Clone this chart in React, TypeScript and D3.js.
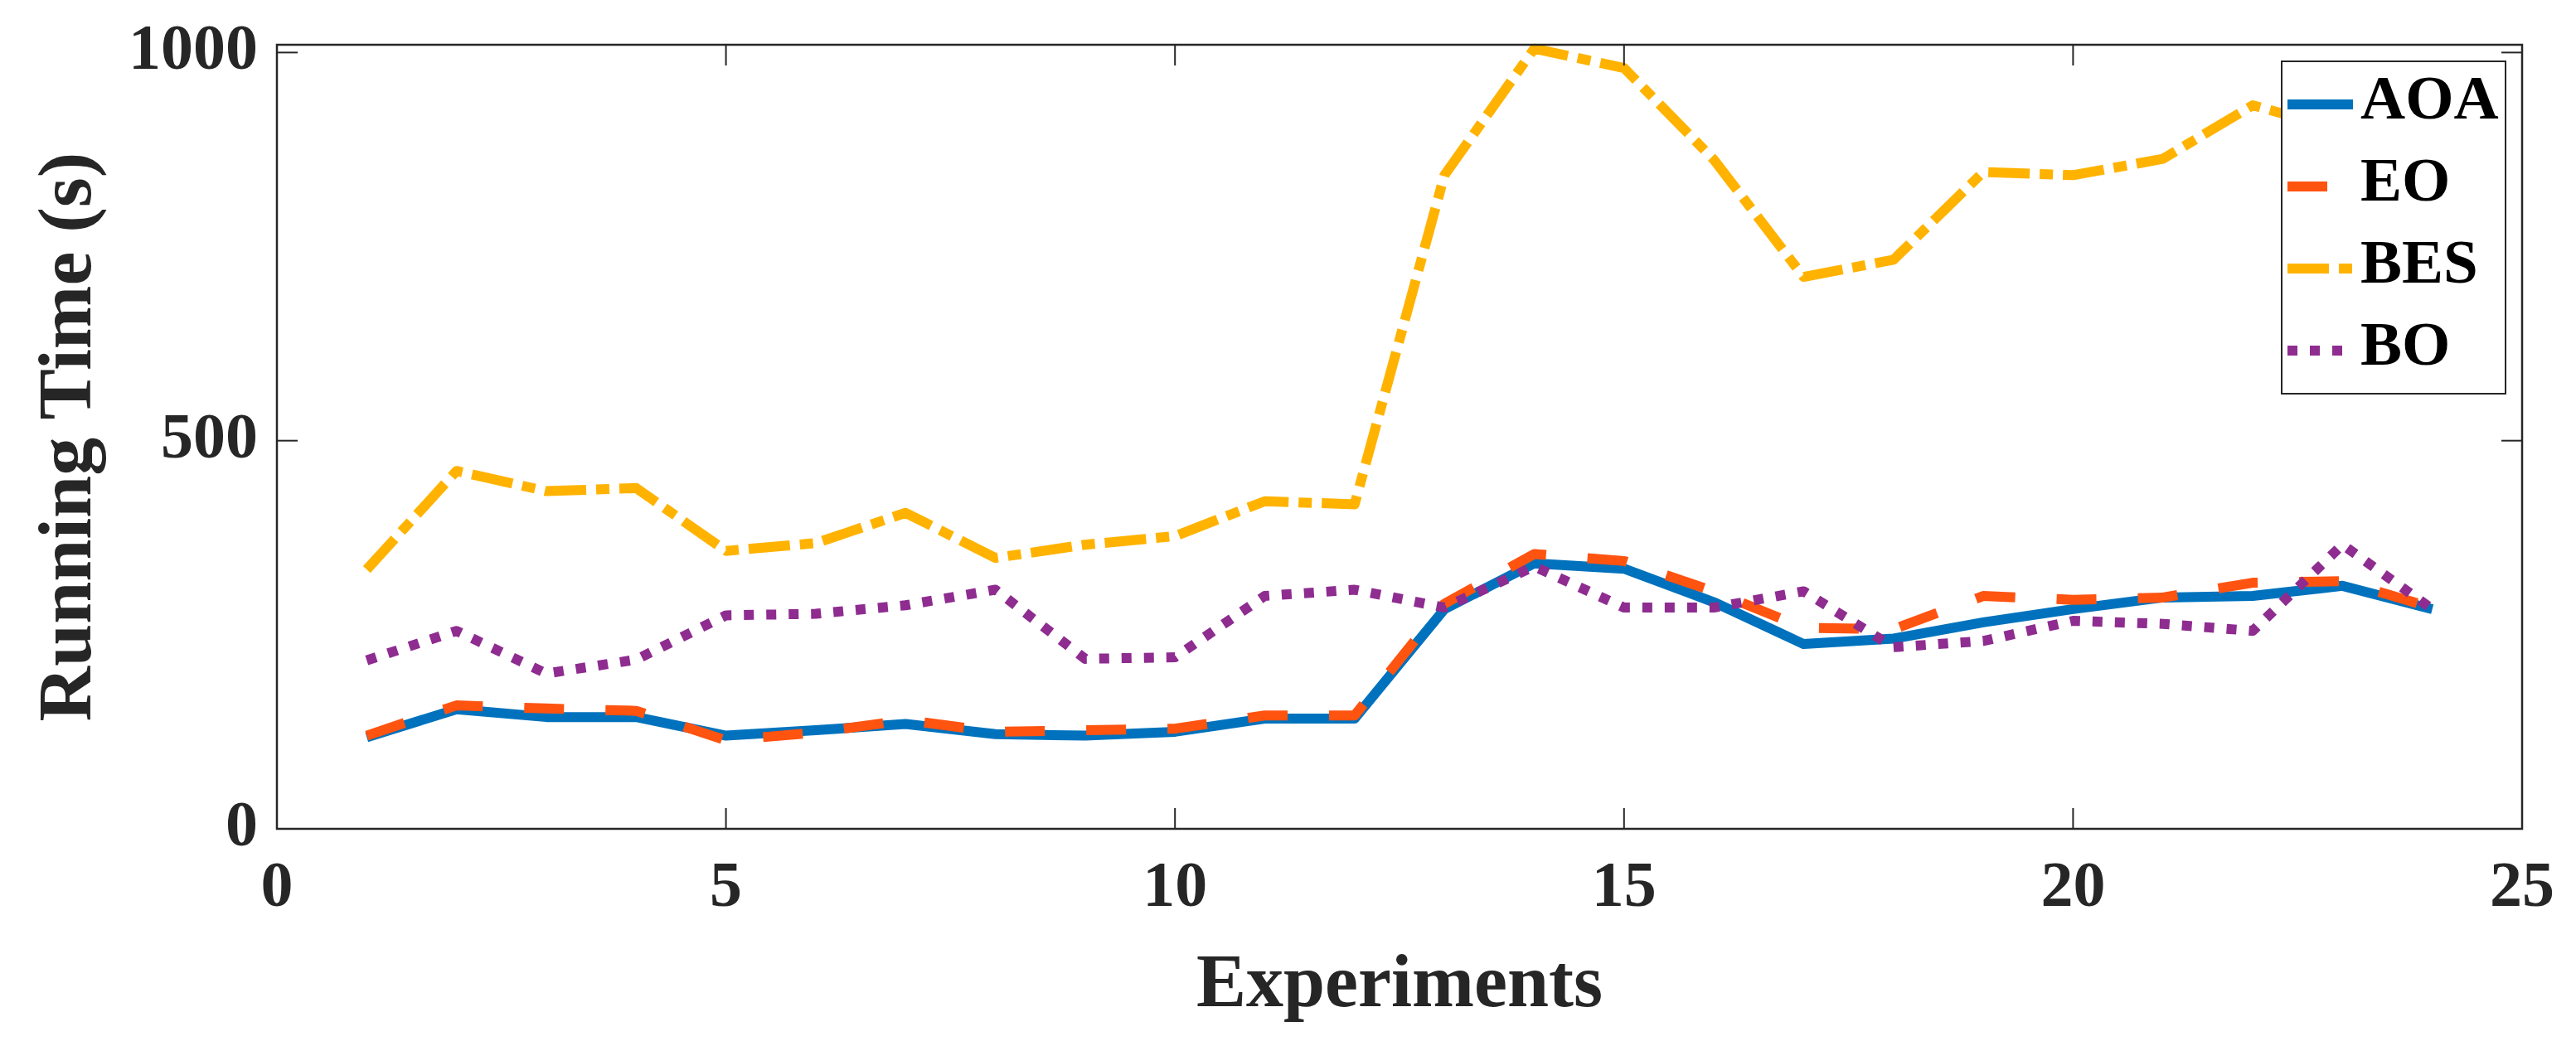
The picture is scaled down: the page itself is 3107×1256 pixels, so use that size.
import * as d3 from "d3";

const experiments = d3.range(1, 25);

const aoa = [118, 154, 144, 144, 120, 127, 135, 122, 120, 125, 142, 142, 283, 342, 335, 292, 238, 245, 266, 283, 298, 300, 313, 283];
const eo = [120, 159, 155, 152, 114, 124, 140, 125, 127, 129, 146, 146, 290, 354, 345, 306, 259, 257, 300, 295, 298, 317, 319, 285];
const bes = [334, 461, 435, 439, 358, 368, 407, 349, 366, 377, 422, 418, 842, 1005, 980, 862, 711, 733, 846, 842, 863, 932, 900, 880];
const bo = [217, 255, 200, 218, 275, 277, 288, 308, 219, 221, 300, 308, 285, 338, 285, 285, 306, 234, 242, 268, 264, 255, 366, 283];

const xTicks = [0, 5, 10, 15, 20, 25];
const yTicks = [0, 500, 1000];

const series = [
  { name: "AOA", values: aoa, color: "#0072BD", dash: "none" },
  { name: "EO", values: eo, color: "#FF5310", dash: "48 50" },
  { name: "BES", values: bes, color: "#FFB300", dash: "50 12 16 12" },
  { name: "BO", values: bo, color: "#8E2C90", dash: "12 15" },
];

const W = 3107;
const H = 1256;
const box = { left: 334, right: 3042, top: 54, bottom: 1000 };
const font = "'Liberation Serif', 'DejaVu Serif', serif";
const axisColor = "#262626";

export default function App() {
  const x = d3.scaleLinear().domain([0, 25]).range([box.left, box.right]);
  const y = d3.scaleLinear().domain([0, 1010]).range([box.bottom, box.top]);
  const line = d3
    .line<number>()
    .x((_, i) => x(experiments[i]))
    .y((d) => y(d));

  const tick = 25;
  const leg = { x: 2752, y: 74, w: 270, h: 401 };

  return (
    <svg
      width={W}
      height={H}
      viewBox={`0 0 ${W} ${H}`}
      style={{ position: "absolute", left: 0, top: 0, background: "#fff" }}
    >
      <rect x={0} y={0} width={W} height={H} fill="#fff" />

      {/* lines */}
      {series.map((s) => (
        <path
          key={s.name}
          d={line(s.values) ?? ""}
          fill="none"
          stroke={s.color}
          strokeWidth={12}
          strokeDasharray={s.dash}
          strokeLinejoin="round"
        />
      ))}

      {/* axes box */}
      <rect
        x={box.left}
        y={box.top}
        width={box.right - box.left}
        height={box.bottom - box.top}
        fill="none"
        stroke={axisColor}
        strokeWidth={2.5}
      />
      {xTicks.map((t) => (
        <g key={"x" + t}>
          <line x1={x(t)} x2={x(t)} y1={box.bottom} y2={box.bottom - tick} stroke={axisColor} strokeWidth={2} />
          <line x1={x(t)} x2={x(t)} y1={box.top} y2={box.top + tick} stroke={axisColor} strokeWidth={2} />
          <text
            x={x(t)}
            y={1093}
            textAnchor="middle"
            fontFamily={font}
            fontWeight="bold"
            fontSize={78}
            fill={axisColor}
          >
            {t}
          </text>
        </g>
      ))}
      {yTicks.map((t) => (
        <g key={"y" + t}>
          <line x1={box.left} x2={box.left + tick} y1={y(t)} y2={y(t)} stroke={axisColor} strokeWidth={2} />
          <line x1={box.right} x2={box.right - tick} y1={y(t)} y2={y(t)} stroke={axisColor} strokeWidth={2} />
          <text
            x={311}
            y={y(t) + 20}
            textAnchor="end"
            fontFamily={font}
            fontWeight="bold"
            fontSize={78}
            fill={axisColor}
          >
            {t}
          </text>
        </g>
      ))}

      {/* axis labels */}
      <text
        x={(box.left + box.right) / 2}
        y={1214}
        textAnchor="middle"
        fontFamily={font}
        fontWeight="bold"
        fontSize={90}
        fill={axisColor}
      >
        Experiments
      </text>
      <text
        transform={`translate(109, ${(box.top + box.bottom) / 2}) rotate(-90)`}
        textAnchor="middle"
        fontFamily={font}
        fontWeight="bold"
        fontSize={92}
        fill={axisColor}
      >
        Running Time (s)
      </text>

      {/* legend */}
      <rect x={leg.x} y={leg.y} width={leg.w} height={leg.h} fill="#fff" stroke={axisColor} strokeWidth={2} />
      {series.map((s, i) => {
        const cy = 126 + i * 99;
        return (
          <g key={"leg" + s.name}>
            <line
              x1={2759}
              x2={2838}
              y1={cy}
              y2={cy}
              stroke={s.color}
              strokeWidth={12}
              strokeDasharray={s.dash}
            />
            <text x={2847} y={cy + 17} fontFamily={font} fontWeight="bold" fontSize={75} fill="#000">
              {s.name}
            </text>
          </g>
        );
      })}
    </svg>
  );
}
